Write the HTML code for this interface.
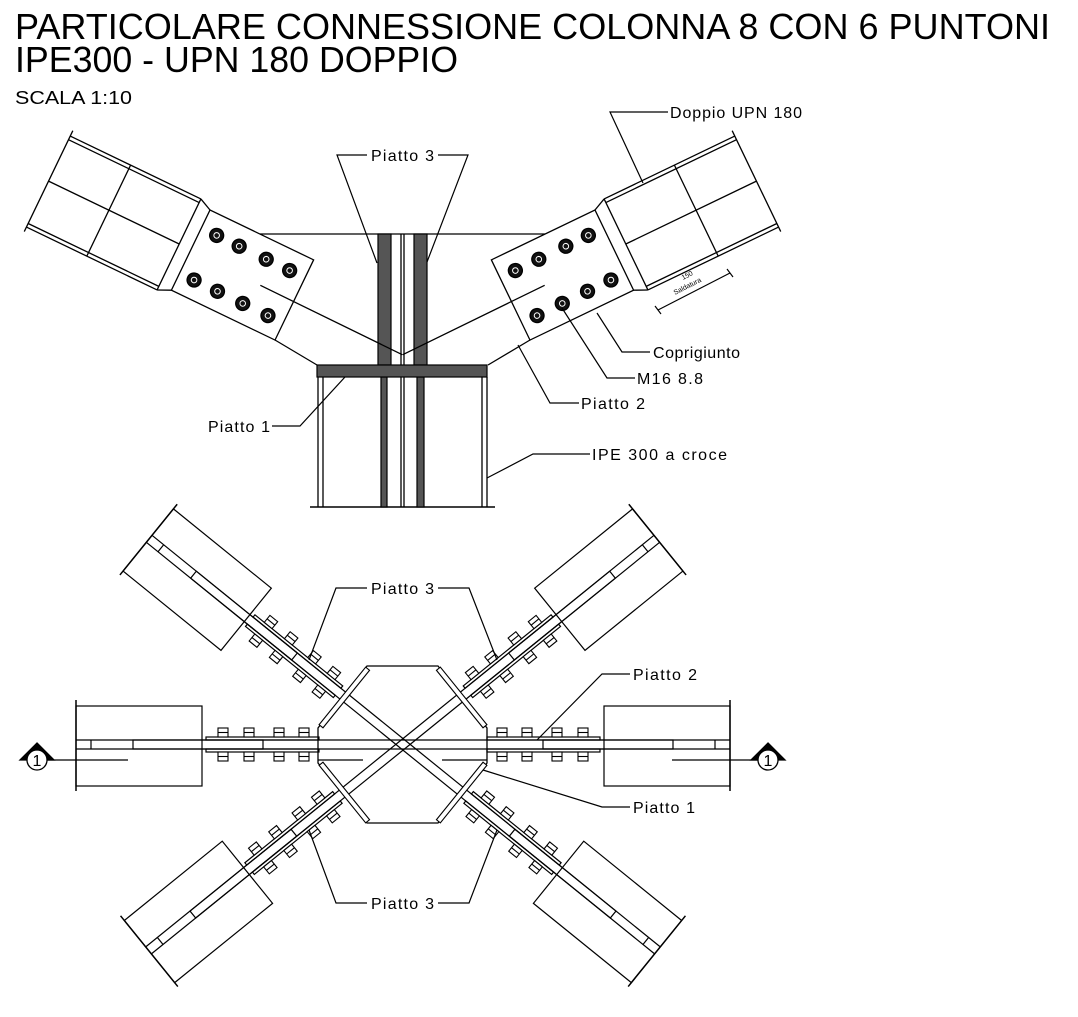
<!DOCTYPE html>
<html><head><meta charset="utf-8"><style>
html,body{margin:0;padding:0;background:#fff;width:1078px;height:1017px;overflow:hidden}
svg{display:block}
text{font-family:"Liberation Sans",sans-serif;fill:#000}
.l{font-size:16px}
</style></head><body>
<svg width="1078" height="1017" viewBox="0 0 1078 1017" xmlns="http://www.w3.org/2000/svg">
<defs>
<g id="bolt"><circle r="7" fill="#111"/><circle r="2.8" fill="none" stroke="#fff" stroke-width="1"/></g>
<g id="beam" fill="none" stroke="#000" stroke-width="1.3">
  <rect x="0" y="0" width="115" height="89"/>
  <line x1="-158" y1="-6" x2="-13" y2="-6"/>
  <line x1="-158" y1="-2" x2="-13" y2="-2"/>
  <line x1="-158" y1="91" x2="-13" y2="91"/>
  <line x1="-158" y1="95" x2="-13" y2="95"/>
  <line x1="-158" y1="44" x2="-13" y2="44"/>
  <line x1="-13" y1="-6" x2="0" y2="0"/>
  <line x1="-13" y1="95" x2="0" y2="89"/>
  <line x1="-91" y1="-6" x2="-91" y2="95"/>
  <line x1="-13" y1="-6" x2="-13" y2="95"/>
  <line x1="-158" y1="-12" x2="-158" y2="100"/>
  <line x1="78" y1="46" x2="236" y2="47"/>
  <use href="#bolt" x="17" y="20"/><use href="#bolt" x="42" y="20"/><use href="#bolt" x="72" y="20"/><use href="#bolt" x="98" y="20"/>
  <use href="#bolt" x="16" y="70"/><use href="#bolt" x="42" y="70"/><use href="#bolt" x="70" y="70"/><use href="#bolt" x="98" y="70"/>
</g>
<g id="bh" fill="#fff" stroke="#000" stroke-width="1.1">
  <rect x="-5" y="-9" width="10" height="9"/><line x1="-5" y1="-4.5" x2="5" y2="-4.5"/>
</g>
<g id="arm" fill="none" stroke="#000" stroke-width="1.2">
  <line x1="0" y1="-5" x2="327" y2="-5"/>
  <line x1="0" y1="4" x2="327" y2="4"/>
  <rect x="140" y="-5" width="130" height="9"/>
  <line x1="312" y1="-5" x2="312" y2="4"/>
  <rect x="84" y="-8" width="113" height="3"/>
  <rect x="84" y="4" width="113" height="3"/>
  <use href="#bh" x="99" y="-8"/><use href="#bh" x="124" y="-8"/><use href="#bh" x="154" y="-8"/><use href="#bh" x="180" y="-8"/>
  <use href="#bh" x="99" y="16"/><use href="#bh" x="124" y="16"/><use href="#bh" x="154" y="16"/><use href="#bh" x="180" y="16"/>
  <rect x="201" y="-39" width="126" height="80"/>
  <line x1="327" y1="-45" x2="327" y2="46" stroke-width="1.5"/>
</g>
<g id="darm">
  <use href="#arm"/>
  <rect x="73" y="-37" width="5" height="74" fill="#fff" stroke="#000" stroke-width="1.1"/>
</g>
</defs>

<text x="15" y="39" font-size="36" textLength="1035" lengthAdjust="spacingAndGlyphs">PARTICOLARE CONNESSIONE COLONNA 8 CON 6 PUNTONI</text>
<text x="15" y="72" font-size="36" textLength="443" lengthAdjust="spacingAndGlyphs">IPE300 - UPN 180 DOPPIO</text>
<text x="15" y="104" font-size="18" textLength="117" lengthAdjust="spacingAndGlyphs">SCALA 1:10</text>

<g fill="none" stroke="#000" stroke-width="1.3">
  <line x1="260" y1="234" x2="545" y2="234"/>
  <line x1="275" y1="340" x2="317" y2="365"/>
  <line x1="530" y1="340" x2="488" y2="365"/>
  <line x1="401" y1="234" x2="401" y2="365"/>
  <line x1="404" y1="234" x2="404" y2="365"/>
  <line x1="401" y1="377" x2="401" y2="507"/>
  <line x1="404" y1="377" x2="404" y2="507"/>
  <line x1="318" y1="377" x2="318" y2="507"/>
  <line x1="323" y1="377" x2="323" y2="507"/>
  <line x1="482" y1="377" x2="482" y2="507"/>
  <line x1="487" y1="377" x2="487" y2="507"/>
  <line x1="310" y1="507" x2="495" y2="507" stroke-width="1.5"/>
</g>
<g stroke="#000" stroke-width="1.2" fill="#555">
  <rect x="378" y="234" width="13" height="131"/>
  <rect x="414" y="234" width="13" height="131"/>
  <rect x="381" y="377" width="6" height="130"/>
  <rect x="417" y="377" width="7" height="130"/>
  <rect x="317" y="365" width="170" height="12"/>
</g>
<use href="#beam" transform="translate(210,210) rotate(25.7)"/>
<use href="#beam" transform="translate(805,0) scale(-1,1) translate(210,210) rotate(25.7)"/>

<g stroke="#000" stroke-width="1.2">
  <line x1="658" y1="310" x2="730" y2="273"/>
  <line x1="655" y1="306" x2="661" y2="314"/>
  <line x1="727" y1="269" x2="733" y2="277"/>
</g>
<text x="683" y="280" font-size="7" transform="rotate(-27 683 280)" fill="#335">150</text>
<text x="675" y="295" font-size="7" transform="rotate(-27 675 295)" fill="#b77">Saldatura</text>

<g fill="none" stroke="#000" stroke-width="1.2">
  <polyline points="377,263 337,155 367,155"/>
  <polyline points="427,262 468,155 438,155"/>
  <polyline points="643,183 610,112 668,112"/>
  <polyline points="597,313 622,352 650,352"/>
  <polyline points="562,308 607,378 635,378"/>
  <polyline points="518,345 550,403 579,403"/>
  <polyline points="487,478 533,454 590,454"/>
  <polyline points="345,377 300,426 272,426"/>
</g>
<text class="l" x="371" y="161" textLength="63">Piatto 3</text>
<text class="l" x="670" y="118" textLength="132">Doppio UPN 180</text>
<text class="l" x="653" y="358" textLength="87">Coprigiunto</text>
<text class="l" x="637" y="384" textLength="66">M16 8.8</text>
<text class="l" x="581" y="409" textLength="64">Piatto 2</text>
<text class="l" x="592" y="460" textLength="135">IPE 300 a croce</text>
<text class="l" x="208" y="432" textLength="62">Piatto 1</text>

<polygon points="367,666 438,666 487,728 487,763 438,823 367,823 318,763 318,728" fill="#fff" stroke="#000" stroke-width="1.3"/>
<g stroke="#000" stroke-width="1.2">
  <line x1="318" y1="760" x2="363" y2="760"/>
  <line x1="442" y1="760" x2="487" y2="760"/>
  <line x1="128" y1="760" x2="47" y2="760"/>
  <line x1="672" y1="760" x2="758" y2="760"/>
</g>
<g transform="translate(403,745)">
  <use href="#arm"/>
  <use href="#arm" transform="scale(-1,1)"/>
  <use href="#darm" transform="rotate(-39)"/>
  <use href="#darm" transform="rotate(39)"/>
  <use href="#darm" transform="scale(-1,1) rotate(-39)"/>
  <use href="#darm" transform="scale(-1,1) rotate(39)"/>
</g>

<g stroke="#000" stroke-width="1.3">
  <polygon points="37,743 54,760 20,760" fill="#000"/>
  <circle cx="37" cy="760" r="10" fill="#fff"/>
  <polygon points="768,743 785,760 751,760" fill="#000"/>
  <circle cx="768" cy="760" r="10" fill="#fff"/>
</g>
<text x="37" y="766" font-size="16" text-anchor="middle" fill="#246">1</text>
<text x="768" y="766" font-size="16" text-anchor="middle" fill="#246">1</text>

<g fill="none" stroke="#000" stroke-width="1.2">
  <polyline points="309,660 336,588 367,588"/>
  <polyline points="497,660 469,588 438,588"/>
  <polyline points="309,830 336,903 367,903"/>
  <polyline points="497,830 469,903 438,903"/>
  <polyline points="537,740 602,674 630,674"/>
  <polyline points="483,770 602,807 630,807"/>
</g>
<text class="l" x="371" y="594" textLength="63">Piatto 3</text>
<text class="l" x="371" y="909" textLength="63">Piatto 3</text>
<text class="l" x="633" y="680" textLength="64">Piatto 2</text>
<text class="l" x="633" y="813" textLength="62">Piatto 1</text>
</svg>
</body></html>
